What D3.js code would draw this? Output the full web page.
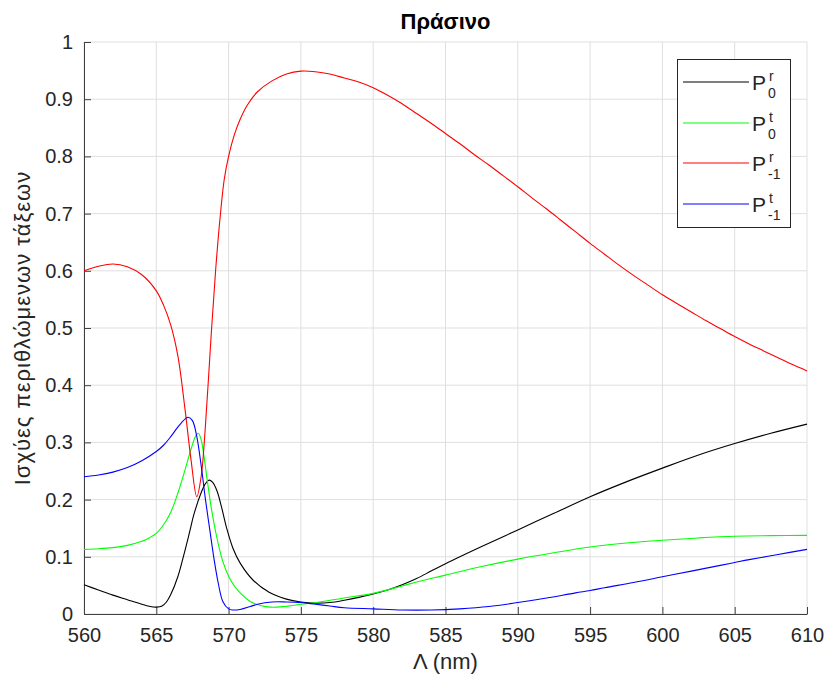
<!DOCTYPE html>
<html>
<head>
<meta charset="utf-8">
<script src="https://cdn.jsdelivr.net/npm/d3@7"></script>
<style>
  html, body { margin: 0; padding: 0; background: #fff; }
  svg { display: block; font-family: "Liberation Sans", Arial, sans-serif; }
</style>
</head>
<body>
<svg id="chart" width="827" height="682"></svg>
<script>
// ---- Data ----
const title = "Πράσινο";
const xLabel = "Λ (nm)";
const yLabel = "Ισχύες περιθλώμενων τάξεων";
const xTicks = [560, 565, 570, 575, 580, 585, 590, 595, 600, 605, 610];
const yTicks = [0, 0.1, 0.2, 0.3, 0.4, 0.5, 0.6, 0.7, 0.8, 0.9, 1];
const yTickLabels = ["0", "0.1", "0.2", "0.3", "0.4", "0.5", "0.6", "0.7", "0.8", "0.9", "1"];

// P0^r (black)  [wavelength nm, power]
const p0r = [
  [560,0.051],[561,0.042],[562,0.033],[563,0.025],[564,0.017],[564.5,0.0135],[565,0.012],
  [565.4,0.014],[565.7,0.021],[566,0.034],[566.5,0.066],[566.9,0.103],[567.3,0.143],[567.6,0.174],
  [568.1,0.212],[568.4,0.228],[568.65,0.234],[568.9,0.23],[569.2,0.215],[569.5,0.188],
  [569.9,0.147],[570.3,0.115],[570.8,0.089],[571.7,0.059],[572.8,0.038],[574,0.026],
  [575,0.021],[576,0.019],[577,0.02],[578,0.024],[579,0.029],[580,0.035],[581,0.042],[582,0.051],
  [583,0.062],[584,0.075],[585,0.088],[587.5,0.118],[590,0.147],[592.5,0.176],[595,0.205],
  [597.5,0.231],[600,0.255],[602.5,0.278],[605,0.298],[607.5,0.316],[610,0.332]
];
// P0^t (green)
const p0t = [
  [560,0.113],[561,0.114],[562,0.116],[563,0.12],[564,0.127],[564.5,0.133],[565,0.141],[565.5,0.156],
  [566,0.178],[566.5,0.212],[567,0.253],[567.4,0.288],[567.7,0.31],[567.9,0.316],
  [568.1,0.305],[568.3,0.275],[568.5,0.238],[568.8,0.186],[569.2,0.132],[569.6,0.092],
  [570,0.066],[570.4,0.049],[570.8,0.037],[571.5,0.022],[572.2,0.015],[572.9,0.012],[573.8,0.013],
  [575,0.017],[576.3,0.021],[578,0.028],[580,0.036],[582,0.049],[583,0.056],[585,0.068],
  [587.5,0.083],[590,0.096],[592.5,0.107],[595,0.117],[597.5,0.124],[600,0.129],
  [602.5,0.133],[605,0.136],[607.5,0.137],[610,0.1375]
];
// P-1^r (red)
const pm1r = [
  [560,0.600],[561,0.608],[562,0.612],[563,0.607],[564,0.593],[565,0.565],[565.5,0.54],
  [566,0.505],[566.5,0.45],[567,0.355],[567.4,0.27],[567.8,0.205],[568.1,0.24],[568.4,0.33],
  [568.8,0.49],[569.1,0.6],[569.4,0.69],[569.7,0.76],[570,0.8],[570.4,0.838],[570.8,0.865],
  [571.3,0.89],[572,0.913],[573,0.932],[574,0.944],[575,0.949],[576,0.948],[577,0.944],
  [578,0.937],[579,0.93],[580,0.92],[581,0.907],[582,0.892],[583,0.875],[584,0.858],
  [585,0.84],[586,0.822],[587,0.803],[588,0.785],[589,0.766],[590,0.747],[591,0.727],
  [592,0.708],[593,0.688],[594,0.668],[595,0.648],[596,0.629],[597,0.61],[598,0.592],
  [599,0.575],[600,0.558],[601,0.543],[602,0.528],[603,0.513],[604,0.499],[605,0.485],
  [606,0.472],[607,0.46],[608,0.448],[609,0.436],[610,0.425]
];
// P-1^t (blue)
const pm1t = [
  [560,0.240],[561,0.243],[562,0.248],[563,0.256],[564,0.268],[565,0.284],[565.5,0.295],
  [566,0.31],[566.5,0.327],[567,0.341],[567.2,0.344],[567.5,0.338],[567.8,0.31],
  [568.1,0.26],[568.4,0.2],[568.7,0.147],[569,0.095],[569.3,0.052],[569.6,0.022],
  [570,0.009],[570.3,0.007],[570.8,0.008],[571.5,0.013],[572,0.017],[573,0.021],
  [574,0.021],[575,0.02],[576,0.017],[577,0.014],[578,0.011],[580,0.009],[582,0.007],
  [584,0.007],[586,0.009],[588,0.013],[590,0.02],[592,0.028],[594,0.037],[595,0.041],
  [596,0.046],[598,0.055],[600,0.065],[602,0.075],[604,0.085],[605,0.09],[606,0.095],
  [608,0.104],[610,0.113]
];

const series = [
  { name: "P0r",  data: p0r,  color: "#000000", sup: "r", sub: "0" },
  { name: "P0t",  data: p0t,  color: "#00ff00", sup: "t", sub: "0" },
  { name: "P-1r", data: pm1r, color: "#ff0000", sup: "r", sub: "-1" },
  { name: "P-1t", data: pm1t, color: "#0000ff", sup: "t", sub: "-1" }
];

// ---- Layout ----
const svg = d3.select("#chart");
const L = 84, R = 807, T = 42, B = 614;
const axisColor = "#404040";
const x = d3.scaleLinear().domain([560, 610]).range([L, R]);
const y = d3.scaleLinear().domain([0, 1]).range([B, T]);

// grid
const grid = svg.append("g");
grid.selectAll("line.vx").data(xTicks).enter().append("line")
  .attr("x1", d => x(d)).attr("x2", d => x(d)).attr("y1", T).attr("y2", B)
  .attr("stroke", "#dfdfdf").attr("stroke-width", 1);
grid.selectAll("line.hy").data(yTicks).enter().append("line")
  .attr("x1", L).attr("x2", R).attr("y1", d => y(d)).attr("y2", d => y(d))
  .attr("stroke", "#dfdfdf").attr("stroke-width", 1);

// axes (ticks inward like MATLAB)
const xAxis = d3.axisBottom(x).tickValues(xTicks).tickSizeInner(-7).tickSizeOuter(0).tickPadding(14)
  .tickFormat(d3.format("d"));
const gx = svg.append("g").attr("transform", `translate(0,${B})`).call(xAxis);
const yAxis = d3.axisLeft(y).tickValues(yTicks).tickSizeInner(-7).tickSizeOuter(0).tickPadding(11)
  .tickFormat((d, i) => yTickLabels[i]);
const gy = svg.append("g").attr("transform", `translate(${L},0)`).call(yAxis);
[gx, gy].forEach(g => {
  g.select(".domain").attr("stroke", axisColor).attr("stroke-width", 1);
  g.selectAll(".tick line").attr("stroke", axisColor);
  g.selectAll(".tick text").attr("fill", "#262626").style("font-size", "20px")
    .style("font-family", "'Liberation Sans', Arial, sans-serif");
});

// lines
const line = d3.line().x(d => x(d[0])).y(d => y(d[1])).curve(d3.curveCatmullRom.alpha(0.5));
svg.append("g").selectAll("path").data(series).enter().append("path")
  .attr("d", d => line(d.data))
  .attr("fill", "none").attr("stroke", d => d.color).attr("stroke-width", 1.1);

// title & axis labels
svg.append("text").attr("x", (L + R) / 2).attr("y", 29).attr("text-anchor", "middle")
  .attr("font-weight", "bold").attr("font-size", 22).attr("fill", "#000").text(title);
svg.append("text").attr("x", (L + R) / 2).attr("y", 669).attr("text-anchor", "middle")
  .attr("font-size", 22).attr("fill", "#262626").text(xLabel);
svg.append("text").attr("transform", `translate(30,${(T + B) / 2}) rotate(-90)`)
  .attr("text-anchor", "middle").attr("font-size", 22).attr("letter-spacing", 1)
  .attr("fill", "#262626").text(yLabel);

// legend
const lg = svg.append("g");
lg.append("rect").attr("x", 677.5).attr("y", 59.5).attr("width", 113).attr("height", 168)
  .attr("fill", "#fff").attr("stroke", "#262626").attr("stroke-width", 1);
const rowY = [82, 123, 163, 204];
series.forEach((s, i) => {
  const yy = rowY[i];
  lg.append("line").attr("x1", 683).attr("x2", 749).attr("y1", yy).attr("y2", yy)
    .attr("stroke", s.color).attr("stroke-width", 1.1);
  lg.append("text").attr("x", 752).attr("y", yy + 8).attr("font-size", 21).attr("fill", "#262626").text("P");
  lg.append("text").attr("x", 769).attr("y", yy - 1).attr("font-size", 14).attr("fill", "#262626").text(s.sup);
  lg.append("text").attr("x", 768).attr("y", yy + 16).attr("font-size", 14).attr("fill", "#262626").text(s.sub);
});
</script>
</body>
</html>
